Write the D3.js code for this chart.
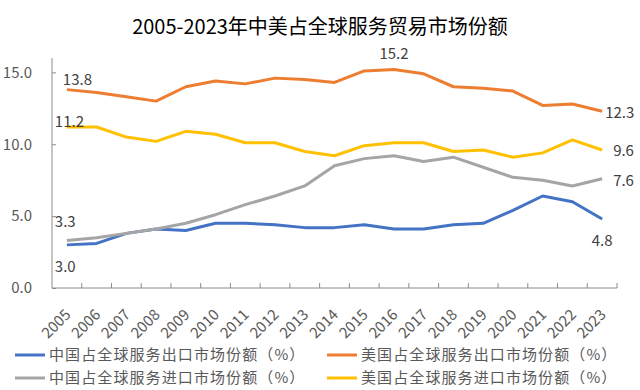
<!DOCTYPE html>
<html>
<head>
<meta charset="utf-8">
<script src="https://cdn.jsdelivr.net/npm/d3@7"></script>
<style>
  body { margin: 0; background: #fff; }
  svg { display: block; font-family: "Noto Sans CJK SC", "Noto Sans", sans-serif; }
</style>
</head>
<body>
<svg id="chart" width="640" height="390"></svg>
<script>
var years = ["2005","2006","2007","2008","2009","2010","2011","2012","2013","2014",
             "2015","2016","2017","2018","2019","2020","2021","2022","2023"];

var cnExport = [3.0, 3.1, 3.8, 4.1, 4.0, 4.5, 4.5, 4.4, 4.2, 4.2, 4.4, 4.1, 4.1, 4.4, 4.5, 5.4, 6.4, 6.0, 4.8];
var usExport = [13.8, 13.6, 13.3, 13.0, 14.0, 14.4, 14.2, 14.6, 14.5, 14.3, 15.1, 15.2, 14.9, 14.0, 13.9, 13.7, 12.7, 12.8, 12.3];
var cnImport = [3.3, 3.5, 3.8, 4.1, 4.5, 5.1, 5.8, 6.4, 7.1, 8.5, 9.0, 9.2, 8.8, 9.1, 8.4, 7.7, 7.5, 7.1, 7.6];
var usImport = [11.2, 11.2, 10.5, 10.2, 10.9, 10.7, 10.1, 10.1, 9.5, 9.2, 9.9, 10.1, 10.1, 9.5, 9.6, 9.1, 9.4, 10.3, 9.6];

var yTicks = [0, 5, 10, 15];

var seriesNames = [
  "中国占全球服务出口市场份额（%）",
  "美国占全球服务出口市场份额（%）",
  "中国占全球服务进口市场份额（%）",
  "美国占全球服务进口市场份额（%）"
];

var series = [
  { name: seriesNames[0], values: cnExport, color: "#4472C4" },
  { name: seriesNames[1], values: usExport, color: "#ED7D31" },
  { name: seriesNames[2], values: cnImport, color: "#A5A5A5" },
  { name: seriesNames[3], values: usImport, color: "#FFC000" }
];

var svg = d3.select("#chart");
var textColor = "#595959";
var axisColor = "#8c8c8c";

var x = d3.scaleBand().domain(years).range([52, 617]);
var y = d3.scaleLinear().domain([0, 16]).range([288, 58]);

function cx(i) { return x(years[i]) + x.bandwidth() / 2; }

// title
svg.append("text")
  .attr("x", 320).attr("y", 34)
  .attr("text-anchor", "middle")
  .attr("font-size", 20)
  .attr("fill", "#000")
  .text("2005-2023年中美占全球服务贸易市场份额");

// y axis
var yAxis = svg.append("g")
  .attr("transform", "translate(52,0)")
  .call(d3.axisRight(y).tickValues(yTicks).tickSize(4).tickFormat(""));
yAxis.select(".domain").attr("stroke", axisColor).attr("d", "M0," + y(16) + "V" + y(0));
yAxis.selectAll(".tick line").attr("stroke", axisColor);

svg.append("g").selectAll("text")
  .data(yTicks)
  .join("text")
  .attr("x", 32)
  .attr("y", function (d) { return y(d); })
  .attr("dy", "0.35em")
  .attr("text-anchor", "end")
  .attr("font-size", 15)
  .attr("fill", textColor)
  .text(function (d) { return d3.format(".1f")(d); });

// x axis with inside ticks at band boundaries
var xg = svg.append("g");
xg.append("line")
  .attr("x1", 52).attr("x2", 617)
  .attr("y1", y(0)).attr("y2", y(0))
  .attr("stroke", axisColor);
xg.selectAll("line.tk")
  .data(years)
  .join("line")
  .attr("class", "tk")
  .attr("x1", function (d) { return x(d) + x.bandwidth(); })
  .attr("x2", function (d) { return x(d) + x.bandwidth(); })
  .attr("y1", y(0)).attr("y2", y(0) - 5)
  .attr("stroke", axisColor);

xg.selectAll("text")
  .data(years)
  .join("text")
  .attr("transform", function (d, i) {
    return "translate(" + (cx(i) + 1) + "," + (y(0) + 24) + ") rotate(-45)";
  })
  .attr("text-anchor", "end")
  .attr("dy", "0.35em")
  .attr("font-size", 15)
  .attr("fill", textColor)
  .text(function (d) { return d; });

// lines
var line = d3.line()
  .x(function (d, i) { return cx(i); })
  .y(function (d) { return y(d); });

svg.append("g").selectAll("path")
  .data(series)
  .join("path")
  .attr("d", function (s) { return line(s.values); })
  .attr("fill", "none")
  .attr("stroke", function (s) { return s.color; })
  .attr("stroke-width", 3)
  .attr("stroke-linejoin", "round");

// data labels
var last = years.length - 1;
var labels = [
  { v: usExport[0], x: cx(0) - 4, y: 80, anchor: "start" },
  { v: usImport[0], x: cx(0) - 12, y: 122, anchor: "start" },
  { v: cnImport[0], x: cx(0) - 12, y: 222, anchor: "start" },
  { v: cnExport[0], x: cx(0) - 12, y: 267, anchor: "start" },
  { v: usExport[11], x: cx(11), y: 54, anchor: "middle" },
  { v: usExport[last], x: cx(last) + 3, y: 113, anchor: "start" },
  { v: usImport[last], x: cx(last) + 11, y: 151, anchor: "start" },
  { v: cnImport[last], x: cx(last) + 11, y: 181, anchor: "start" },
  { v: cnExport[last], x: cx(last), y: 241, anchor: "middle" }
];

svg.append("g").selectAll("text")
  .data(labels)
  .join("text")
  .attr("x", function (d) { return d.x; })
  .attr("y", function (d) { return d.y; })
  .attr("dy", "0.35em")
  .attr("text-anchor", function (d) { return d.anchor; })
  .attr("font-size", 15)
  .attr("fill", "#404040")
  .text(function (d) { return d3.format(".1f")(d.v); });

// legend
var legendPos = [[15, 355], [327, 355], [15, 378], [327, 378]];
var lg = svg.append("g").selectAll("g")
  .data(series)
  .join("g")
  .attr("transform", function (s, i) {
    return "translate(" + legendPos[i][0] + "," + legendPos[i][1] + ")";
  });

lg.append("line")
  .attr("x1", 0).attr("x2", 30)
  .attr("stroke", function (s) { return s.color; })
  .attr("stroke-width", 3);

lg.append("text")
  .attr("x", 34)
  .attr("dy", "0.35em")
  .attr("font-size", 15)
  .attr("letter-spacing", 1.1)
  .attr("fill", textColor)
  .text(function (s) { return s.name; });
</script>
</body>
</html>
